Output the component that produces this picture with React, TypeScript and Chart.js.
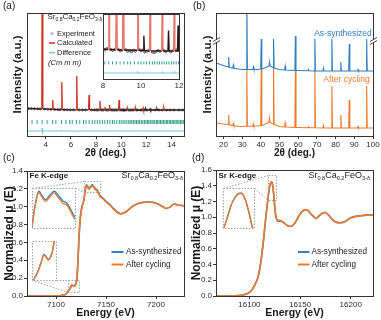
import React, { useEffect, useRef } from 'react';
import { Chart, registerables } from 'chart.js';

Chart.register(...registerables);

const W = 381;
const H = 320;
const FONT = "'Liberation Sans', Arial, Helvetica, sans-serif";
Chart.defaults.font.family = FONT;

const AX = '#333333';
const BLUE = '#2f7fc1';
const ORANGE = '#ee7a2c';
const RED = '#d0301f';
const RED_LIGHT = '#e5786c';
const DARK = '#2b1813';
const TEAL = '#2a9f86';
const CYAN = '#78c6e4';
const DOT = '#8a8a8a';

// ---------------- Panel (a): refinement ----------------
const aTicksX = [4, 6, 8, 10, 12, 14];
const aInsetTicksX = [8, 10, 12];
const calcX = [
  2.5, 3.0, 3.5, 3.68, 3.72, 3.76, 4.0,
  4.51, 4.55, 4.59, 5.0,
  5.23, 5.27, 5.31, 6.0,
  6.42, 6.46, 6.5, 7.0,
  7.4, 7.44, 7.48, 8.0,
  8.27, 8.31, 8.35,
  8.67, 8.71, 8.75,
  9.03, 9.07, 9.11,
  9.79, 9.83, 9.87,
  10.12, 10.15, 10.18,
  10.45, 10.48, 10.51,
  11.09, 11.12, 11.15,
  11.42, 11.45, 11.48,
  11.72, 11.75, 11.78,
  11.92, 11.95, 11.98,
  12.27, 12.3, 12.33,
  12.82, 12.85, 12.88,
  13.37, 13.4, 13.43,
  14.37, 14.4, 14.43,
  15.0,
];
const calcY = [
  1.5, 1.3, 1.1, 1.0, 200, 1.0, 0.9,
  0.6, 10, 0.6, 0.4,
  0.3, 28, 0.3, 0.2,
  0.1, 34, 0.1, 0.05,
  0.03, 15, 0.03, 0.08,
  0.06, 9, 0.06,
  0.05, 3, 0.05,
  0.04, 5, 0.04,
  0.03, 10, 0.03,
  0.02, 0.6, 0.02,
  0, 2, 0,
  0, 2.3, 0,
  0, 0.8, 0,
  0, 1.7, 0,
  0, 1.0, 0,
  0, 1.1, 0,
  0, 1.1, 0,
  0, 1.7, 0,
  0, 0.8, 0,
  0,
];
const expX = [
  2.6, 2.85, 3.1, 3.35, 3.55, 3.9, 4.15, 4.4, 4.7, 4.95, 5.15, 5.45, 5.7, 5.95, 6.2, 6.65, 6.9, 7.15, 7.65, 7.85,
  8.0, 8.1, 8.2, 8.4, 8.5, 8.6, 8.8, 8.9, 9.0, 9.2,
  9.3, 9.4, 9.5, 9.6, 9.7, 9.9, 10.0, 10.1, 10.2, 10.3,
  10.4, 10.6, 10.7, 10.8, 10.9, 11.0, 11.2, 11.3, 11.55, 11.65,
  11.85, 12.05,
  12.4, 12.7, 13.0, 13.3, 13.6, 13.9, 14.2, 14.6, 14.9,
];
const expY = [
  1.45, 1.35, 1.25, 1.15, 1.05, 0.92, 0.85, 0.7, 0.55, 0.42, 0.35, 0.3, 0.25, 0.2, 0.15, 0.08, 0.05, 0.04, 0.06, 0.08,
  0.08, 0.04, 0.1, 0.06, 0.02, 0.05, 0.07, 0.0, 0.03, 0.05,
  -0.02, 0.02, -0.04, 0.03, -0.01, 0.07, 0.01, 0.04, -0.05, -0.01,
  0.02, -0.05, -0.07, -0.02, 0.02, -0.01, 0.03, -0.03, -0.03, 0.0,
  0.04, 0.02,
  0.0, 0.02, -0.01, 0.01, 0.0, 0.01, 0.0, 0.01, 0.0,
];
const braggX = [
  2.9, 3.3, 3.7, 4.1, 4.55, 4.8, 5.25, 5.6, 5.9, 6.1, 6.45, 6.7, 7.0, 7.2, 7.45, 7.7, 7.9, 8.1, 8.3, 8.5,
  8.7, 8.9, 9.1, 9.3, 9.45, 9.65, 9.85, 10.0, 10.15, 10.3, 10.45, 10.6, 10.72, 10.85, 10.97, 11.1, 11.22,
  11.35, 11.47, 11.6, 11.72, 11.85, 11.97, 12.1, 12.2, 12.32, 12.45, 12.55, 12.67, 12.8, 12.9, 13.02,
  13.13, 13.25, 13.36, 13.48, 13.6, 13.7, 13.82, 13.93, 14.05, 14.15, 14.27, 14.38, 14.5, 14.6, 14.72,
  14.83, 14.95,
];
const diffX = [2.5, 3.69, 3.71, 3.73, 3.75, 5.25, 5.27, 5.29, 6.44, 6.46, 6.48, 9.81, 9.83, 9.85, 11.1, 11.12, 11.14, 11.73, 11.75, 11.77, 15];
const diffY = [0, 0, 3, -3, 0, 0, 1, 0, 0, -1, 0, 0, 0.06, 0, 0, 0.05, 0, 0, 0.05, 0, 0];

// ---------------- Panel (b): XRD ----------------
const bTicksX = [20, 30, 40, 50, 60, 70, 80, 90, 100];
const bX = [
  16, 20, 22.5, 22.8, 23.1, 25, 25.3, 25.6, 28, 30,
  32.2, 32.5, 32.8, 35.7, 36, 36.3, 38, 39.9, 40.2, 40.5,
  42, 43.3, 44.3, 44.6, 44.9, 46, 46.5, 46.8, 47.1, 50,
  52.7, 53, 53.3, 58.2, 58.5, 58.8, 60, 65.2, 65.5, 65.8,
  68.6, 68.9, 69.2, 73.2, 73.5, 73.8, 77.7, 78, 78.3, 82.5,
  82.8, 83.1, 87, 87.3, 87.6, 91.7, 92, 92.3, 96.3, 96.6,
  96.9, 100,
];
const bAsSyn = [
  73, 70.5, 69, 79, 68.8, 68, 71, 67.8, 67, 66.5,
  66.5, 135, 66.5, 66.5, 69, 66.5, 66.5, 67, 97, 67,
  68, 69, 70, 74, 70, 69, 68.5, 97, 68, 66.5,
  66, 70, 66, 65.5, 100, 65.5, 65.5, 65.2, 66.5, 65.2,
  65, 97, 65, 65, 68, 65, 65, 97, 65, 65,
  74, 65, 65, 92, 65, 65, 66.5, 65, 65, 97,
  65, 65,
];
const bAfter = [
  13, 12, 11.5, 21, 11.3, 10.5, 12.5, 10.3, 9.8, 9.5,
  9.8, 67, 9.8, 9.8, 12, 9.8, 10, 10.5, 67, 10.5,
  11.5, 13, 13.5, 18, 13.5, 12.5, 12, 68, 11.5, 9.5,
  9, 13, 9, 8.5, 66, 8.5, 8.5, 8.3, 9.5, 8.3,
  8.2, 66, 8.2, 8, 10.5, 8, 8, 50, 8, 8,
  21, 8, 8, 36, 8, 8, 9.5, 8, 8, 50,
  8, 8,
];
const bBreakY = 95;

// ---------------- Panel (c): Fe K-edge ----------------
const feTicksX = [7100, 7150, 7200];
const feTicksY = [0, 0.2, 0.4, 0.6, 0.8, 1.0, 1.2, 1.4];
const feE = [
  7071, 7090, 7100, 7105, 7108, 7110, 7111.5, 7113, 7114.5, 7116,
  7117, 7118, 7119, 7120, 7121, 7122, 7123, 7124, 7125, 7126,
  7127, 7128, 7129, 7130.5, 7132, 7133, 7134.5, 7136.3, 7137.5, 7139.5,
  7141, 7144, 7147, 7150, 7154, 7158, 7162, 7165, 7170, 7177,
  7182, 7187, 7192, 7197, 7202, 7207, 7210, 7214, 7218, 7222,
  7228,
];
const feAsSyn = [
  0, 0, 0.002, 0.005, 0.012, 0.022, 0.045, 0.065, 0.095, 0.125,
  0.118, 0.108, 0.118, 0.14, 0.2, 0.4, 0.65, 0.83, 0.94, 1.0,
  1.04, 1.085, 1.17, 1.245, 1.22, 1.206, 1.225, 1.245, 1.23, 1.2,
  1.19, 1.125, 1.094, 1.06, 1.02, 0.975, 0.935, 0.922, 0.944, 1.008,
  1.035, 1.05, 1.052, 1.05, 1.03, 1.0, 0.98, 0.995, 1.03, 1.02,
  1.01,
];
const feAfter = [
  0, 0, 0.002, 0.005, 0.012, 0.022, 0.044, 0.063, 0.093, 0.122,
  0.116, 0.106, 0.116, 0.14, 0.21, 0.42, 0.66, 0.835, 0.94, 0.995,
  1.035, 1.08, 1.165, 1.238, 1.212, 1.198, 1.216, 1.237, 1.22, 1.19,
  1.18, 1.115, 1.09, 1.056, 1.016, 0.97, 0.93, 0.92, 0.944, 1.006,
  1.033, 1.048, 1.05, 1.048, 1.028, 0.998, 0.98, 0.995, 1.028, 1.02,
  1.01,
];

// ---------------- Panel (d): Sr K-edge ----------------
const srTicksX = [16100, 16150, 16200];
const srTicksY = [0, 0.2, 0.4, 0.6, 0.8, 1.0, 1.2, 1.4, 1.6];
const srE = [
  16067, 16085, 16092, 16097, 16100, 16102, 16104, 16106, 16108, 16110,
  16112, 16114, 16116, 16118, 16119.5, 16121, 16122, 16123, 16124, 16125,
  16126, 16127.5, 16130, 16132, 16135, 16138, 16141, 16145, 16150, 16154,
  16157, 16161, 16164, 16166, 16169, 16172, 16175, 16178, 16182, 16186,
  16190, 16195, 16200, 16206, 16212, 16218, 16222,
];
const srAsSyn = [
  0, 0.003, 0.01, 0.025, 0.045, 0.07, 0.11, 0.16, 0.22, 0.33,
  0.5, 0.72, 0.98, 1.2, 1.36, 1.44, 1.45, 1.4, 1.28, 1.13,
  1.02, 0.955, 0.95, 0.945, 0.92, 0.89, 0.885, 0.93, 1.04, 1.09,
  1.09, 1.04, 1.0, 0.985, 1.02, 1.05, 1.06, 1.03, 0.97, 0.935,
  0.93, 0.95, 0.995, 1.015, 1.025, 1.03, 1.03,
];
const srAfter = [
  0, 0.003, 0.01, 0.025, 0.045, 0.07, 0.11, 0.16, 0.22, 0.33,
  0.5, 0.72, 0.98, 1.2, 1.36, 1.44, 1.45, 1.4, 1.29, 1.14,
  1.03, 0.965, 0.96, 0.95, 0.92, 0.89, 0.885, 0.93, 1.04, 1.09,
  1.09, 1.04, 1.0, 0.985, 1.02, 1.05, 1.06, 1.03, 0.97, 0.935,
  0.93, 0.95, 0.99, 1.01, 1.02, 1.03, 1.03,
];

// ---------------- labels ----------------
const formulaParts: [string, boolean][] = [
  ['Sr', false], ['0.8', true], ['Ca', false], ['0.2', true], ['FeO', false], ['3-δ', true],
];
const seriesNames = ['As-synthesized', 'After cycling'];
const aLegend = ['Experiment', 'Calculated', 'Difference'];

// ---------------- layout constants ----------------
const A_AREA = { l: 27, t: 13, r: 184, b: 136 };
const B_AREA = { l: 216, t: 13, r: 373, b: 136 };
const C_AREA = { l: 27, t: 171, r: 184, b: 296 };
const D_AREA = { l: 216, t: 170, r: 373, b: 296 };
const INSET_A = { l: 103, t: 14, r: 179, b: 79 };
const INSET_C1 = { l: 32, t: 188, r: 75, b: 228 };
const INSET_C2 = { l: 32, t: 241, r: 56, b: 280 };
const INSET_D = { l: 223, t: 188, r: 254, b: 228 };
const C1_BOX = { x0: 7128, x1: 7144, y0: 1.16, y1: 1.29 };
const C2_BOX = { x0: 7111.5, x1: 7123, y0: 0.045, y1: 0.175 };
const D_BOX = { x0: 16118.7, x1: 16126.3, y0: 1.22, y1: 1.54 };

const zip = (xs: number[], ys: number[], off = 0) => xs.map((x, i) => ({ x, y: ys[i] + off }));

function text(ctx: any, s: string, x: number, y: number, o: any = {}) {
  ctx.save();
  ctx.font = `${o.italic ? 'italic ' : ''}${o.bold ? 'bold ' : ''}${o.size ?? 8}px ${FONT}`;
  ctx.fillStyle = o.color ?? '#1a1a1a';
  ctx.textAlign = o.align ?? 'left';
  ctx.textBaseline = 'middle';
  if (o.rot) {
    ctx.translate(x, y);
    ctx.rotate(o.rot);
    ctx.fillText(s, 0, 0);
  } else ctx.fillText(s, x, y);
  ctx.restore();
}

function seg(ctx: any, x1: number, y1: number, x2: number, y2: number, color: string, lw = 1, dash?: number[]) {
  ctx.save();
  ctx.strokeStyle = color;
  ctx.lineWidth = lw;
  if (dash) ctx.setLineDash(dash);
  ctx.beginPath();
  ctx.moveTo(x1, y1);
  ctx.lineTo(x2, y2);
  ctx.stroke();
  ctx.restore();
}

function rect(ctx: any, l: number, t: number, r: number, b: number, color: string, lw = 1, dash?: number[]) {
  ctx.save();
  ctx.strokeStyle = color;
  ctx.lineWidth = lw;
  if (dash) ctx.setLineDash(dash);
  const L = Math.round(l) + 0.5, T = Math.round(t) + 0.5, R = Math.round(r) + 0.5, B = Math.round(b) + 0.5;
  ctx.strokeRect(L, T, R - L, B - T);
  ctx.restore();
}

function drawFormula(ctx: any, x: number, y: number, size: number, align: 'left' | 'right') {
  ctx.save();
  ctx.fillStyle = '#1a1a1a';
  ctx.textBaseline = 'middle';
  ctx.textAlign = 'left';
  const sub = size * 0.62;
  let total = 0;
  const widths = formulaParts.map(([t, s]) => {
    ctx.font = `${s ? sub : size}px ${FONT}`;
    const w = ctx.measureText(t).width;
    total += w;
    return w;
  });
  let cx = align === 'right' ? x - total : x;
  formulaParts.forEach(([t, s], i) => {
    ctx.font = `${s ? sub : size}px ${FONT}`;
    ctx.fillText(t, cx, s ? y + size * 0.32 : y);
    cx += widths[i];
  });
  ctx.restore();
}

function xScale(min: number, max: number, ticks: number[], h: number, show = true, fmt = (v: number) => String(v)) {
  return {
    type: 'linear',
    position: 'bottom',
    min,
    max,
    afterBuildTicks: (s: any) => { s.ticks = ticks.map((v) => ({ value: v })); },
    afterFit: (s: any) => { s.height = h; },
    grid: { display: show, drawOnChartArea: false, drawTicks: show, tickLength: 3, color: AX, lineWidth: 1 },
    border: { display: false },
    ticks: { display: true, font: { family: FONT, size: 8 }, color: '#2b2b2b', padding: show ? 1 : 2, maxRotation: 0, minRotation: 0, autoSkip: false, callback: (v: number) => fmt(v) },
  };
}

function yScale(min: number, max: number, ticks: number[], w: number, show: boolean) {
  return {
    type: 'linear',
    position: 'left',
    min,
    max,
    afterBuildTicks: (s: any) => { s.ticks = ticks.map((v) => ({ value: v })); },
    afterFit: (s: any) => { s.width = w; },
    grid: { display: show, drawOnChartArea: false, drawTicks: show, tickLength: 3, color: AX, lineWidth: 1 },
    border: { display: false },
    ticks: { display: show, font: { family: FONT, size: 8 }, color: '#2b2b2b', padding: 1, callback: (v: number) => v.toFixed(1) },
  };
}

function options(area: any, xH: number, yW: number, scales: any) {
  return {
    responsive: false,
    maintainAspectRatio: false,
    animation: false,
    devicePixelRatio: 1,
    events: [],
    layout: { padding: { left: area.l - yW, top: area.t, right: W - area.r, bottom: H - area.b - xH } },
    plugins: { legend: { display: false }, tooltip: { enabled: false }, title: { display: false } },
    scales,
  };
}

const whiteBg = (id: string) => ({
  id,
  beforeDatasetsDraw(chart: any) {
    const { ctx, chartArea: ca } = chart;
    ctx.save();
    ctx.fillStyle = '#ffffff';
    ctx.fillRect(ca.left, ca.top, ca.right - ca.left, ca.bottom - ca.top);
    ctx.restore();
  },
});

const lineDs = (data: any[], color: string, width: number, smooth: boolean, extra: any = {}) => ({
  data,
  borderColor: color,
  borderWidth: width,
  pointRadius: 0,
  fill: false,
  tension: smooth ? 0.4 : 0,
  cubicInterpolationMode: smooth ? 'monotone' : 'default',
  ...extra,
});

function refinementDatasets(braggY: number, diffOff: number, tickR: number, peakColor: string, w: number) {
  const segment = { borderColor: (c: any) => (Math.max(c.p0.parsed.y, c.p1.parsed.y) > 1.5 ? peakColor : DARK) };
  return [
    lineDs(zip(calcX, calcY), peakColor, w, false, { segment, order: 1 }),
    { data: zip(expX, expY), showLine: false, pointRadius: 1.1, pointBackgroundColor: '#cdbfd8', pointBorderColor: '#3a2626', pointBorderWidth: 0.6, order: 2 },
    { data: braggX.map((x) => ({ x, y: braggY })), showLine: false, pointStyle: 'line', rotation: 90, pointRadius: tickR, pointBorderColor: TEAL, pointBorderWidth: 1, borderColor: TEAL, order: 3 },
    lineDs(zip(diffX, diffY, diffOff), CYAN, 1, false, { order: 4 }),
  ];
}

// ---------------- chart builders ----------------
function buildA() {
  return {
    type: 'line',
    data: { datasets: refinementDatasets(-12, -21, 2, RED, 1.3) },
    options: options(A_AREA, 24, 27, { x: xScale(2.5, 15, aTicksX, 24), y: yScale(-26, 97, [], 27, false) }),
    plugins: [{
      id: 'decorA',
      afterDraw(chart: any) {
        const { ctx, chartArea: ca } = chart;
        rect(ctx, ca.left, ca.top, ca.right, ca.bottom, AX);
        text(ctx, '(a)', 3, 6.5, { size: 10 });
        text(ctx, 'Intensity (a.u.)', 17.5, (ca.top + ca.bottom) / 2, { size: 11.5, bold: true, rot: -Math.PI / 2, align: 'center' });
        text(ctx, '2θ (deg.)', (ca.left + ca.right) / 2, 153, { size: 10, bold: true, align: 'center' });
        drawFormula(ctx, 47.5, 17, 8, 'left');
        ctx.save();
        ctx.beginPath();
        ctx.arc(52, 33.5, 1.8, 0, Math.PI * 2);
        ctx.fillStyle = '#c6bfdc';
        ctx.fill();
        ctx.restore();
        text(ctx, aLegend[0], 57, 33.5, { size: 7.5 });
        seg(ctx, 49, 43, 55, 43, RED, 1.5);
        text(ctx, aLegend[1], 57, 43, { size: 7.5 });
        seg(ctx, 49, 52.7, 55, 52.7, CYAN, 1.5);
        text(ctx, aLegend[2], 57, 52.7, { size: 7.5 });
        text(ctx, '(Cm m m)', 48, 62.5, { size: 7.5, italic: true });
      },
    }],
  };
}

function buildAInset() {
  return {
    type: 'line',
    data: { datasets: refinementDatasets(-0.47, -0.865, 1.5, RED_LIGHT, 1.4) },
    options: options(INSET_A, 10, 0, {
      x: xScale(8, 12, aInsetTicksX, 10, false),
      y: { ...yScale(-1.1, 1.45, [], 0, false), display: false },
    }),
    plugins: [whiteBg('bgA'), {
      id: 'frameA',
      afterDraw(chart: any) {
        const { ctx, chartArea: ca } = chart;
        rect(ctx, ca.left, ca.top, ca.right, ca.bottom, AX);
      },
    }],
  };
}

function buildB() {
  return {
    type: 'line',
    data: {
      datasets: [
        lineDs(zip(bX, bAsSyn), BLUE, 1.1, false, { order: 1 }),
        lineDs(zip(bX, bAfter), ORANGE, 1.1, false, { order: 2 }),
      ],
    },
    options: options(B_AREA, 24, 26, { x: xScale(16, 100, bTicksX, 24), y: yScale(0, 123, [], 26, false) }),
    plugins: [{
      id: 'decorB',
      afterDraw(chart: any) {
        const { ctx, chartArea: ca, scales } = chart;
        rect(ctx, ca.left, ca.top, ca.right, ca.bottom, AX);
        const by = scales.y.getPixelForValue(bBreakY);
        [Math.round(ca.left) + 0.5, Math.round(ca.right) + 0.5].forEach((x) => {
          ctx.save();
          ctx.fillStyle = '#ffffff';
          ctx.fillRect(x - 2, by - 1.5, 4, 3);
          ctx.restore();
          seg(ctx, x - 3.5, by + 0.5, x + 3.5, by - 3.5, AX, 0.9);
          seg(ctx, x - 3.5, by + 3.5, x + 3.5, by - 0.5, AX, 0.9);
        });
        text(ctx, '(b)', 193, 6.5, { size: 10 });
        text(ctx, 'Intensity (a.u.)', 207.5, (ca.top + ca.bottom) / 2, { size: 11.5, bold: true, rot: -Math.PI / 2, align: 'center' });
        text(ctx, '2θ (deg.)', (ca.left + ca.right) / 2, 153, { size: 10, bold: true, align: 'center' });
        text(ctx, seriesNames[0], 343, 34, { size: 8.5, color: BLUE, align: 'center' });
        text(ctx, seriesNames[1], 346.5, 80, { size: 8.5, color: ORANGE, align: 'center' });
      },
    }],
  };
}

function xasLegend(ctx: any, x0: number, x1: number, tx: number) {
  seg(ctx, x0, 252, x1, 252, BLUE, 2);
  text(ctx, seriesNames[0], tx, 252, { size: 8.2 });
  seg(ctx, x0, 264.5, x1, 264.5, ORANGE, 2);
  text(ctx, seriesNames[1], tx, 264.5, { size: 8.2 });
}

function zoomBox(ctx: any, scales: any, box: any) {
  const l = scales.x.getPixelForValue(box.x0);
  const r = scales.x.getPixelForValue(box.x1);
  const t = scales.y.getPixelForValue(box.y1);
  const b = scales.y.getPixelForValue(box.y0);
  rect(ctx, l, t, r, b, DOT, 0.8, [1.5, 1.5]);
  return { l: Math.round(l) + 0.5, t: Math.round(t) + 0.5, r: Math.round(r) + 0.5, b: Math.round(b) + 0.5 };
}

function buildC() {
  return {
    type: 'line',
    data: {
      datasets: [
        lineDs(zip(feE, feAfter), ORANGE, 1.6, true, { order: 1 }),
        lineDs(zip(feE, feAsSyn), BLUE, 1.6, true, { order: 2 }),
      ],
    },
    options: options(C_AREA, 24, 27, {
      x: xScale(7071, 7228, feTicksX, 24),
      y: yScale(0, 1.4, feTicksY, 27, true),
    }),
    plugins: [{
      id: 'decorC',
      afterDraw(chart: any) {
        const { ctx, chartArea: ca, scales } = chart;
        rect(ctx, ca.left, ca.top, ca.right, ca.bottom, AX);
        text(ctx, '(c)', 3, 158, { size: 10 });
        text(ctx, 'Normalized μ (E)', 10, (ca.top + ca.bottom) / 2, { size: 12, bold: true, rot: -Math.PI / 2, align: 'center' });
        text(ctx, 'Energy (eV)', (ca.left + ca.right) / 2, 313, { size: 10.5, bold: true, align: 'center' });
        text(ctx, 'Fe K-edge', 29.5, 175.5, { size: 8, bold: true });
        drawFormula(ctx, 183, 175.5, 9, 'right');
        xasLegend(ctx, 111.5, 123.5, 126);
        const b1 = zoomBox(ctx, scales, C1_BOX);
        seg(ctx, INSET_C1.l + 0.5, INSET_C1.t + 0.5, b1.l, b1.t, DOT, 0.8, [1.5, 1.5]);
        seg(ctx, INSET_C1.r + 0.5, INSET_C1.t + 0.5, b1.l, b1.b, DOT, 0.8, [1.5, 1.5]);
        const b2 = zoomBox(ctx, scales, C2_BOX);
        seg(ctx, INSET_C2.l + 0.5, INSET_C2.b + 0.5, b2.l, b2.b, DOT, 0.8, [1.5, 1.5]);
        seg(ctx, INSET_C2.r + 0.5, INSET_C2.b + 0.5, b2.l, b2.t, DOT, 0.8, [1.5, 1.5]);
      },
    }],
  };
}

function buildXasInset(id: string, area: any, xr: number[], yr: number[], E: number[], a: number[], b: number[]) {
  return {
    type: 'line',
    data: {
      datasets: [
        lineDs(zip(E, b), ORANGE, 1.3, true, { order: 1 }),
        lineDs(zip(E, a), BLUE, 1.3, true, { order: 2 }),
      ],
    },
    options: options(area, 0, 0, {
      x: { ...xScale(xr[0], xr[1], [], 0, false), display: false },
      y: { ...yScale(yr[0], yr[1], [], 0, false), display: false },
    }),
    plugins: [whiteBg('bg' + id), {
      id: 'frame' + id,
      afterDraw(chart: any) {
        const { ctx, chartArea: ca } = chart;
        rect(ctx, ca.left, ca.top, ca.right, ca.bottom, DOT, 0.8, [1.5, 1.5]);
      },
    }],
  };
}

function buildD() {
  return {
    type: 'line',
    data: {
      datasets: [
        lineDs(zip(srE, srAfter), ORANGE, 1.6, true, { order: 1 }),
        lineDs(zip(srE, srAsSyn), BLUE, 1.6, true, { order: 2 }),
      ],
    },
    options: options(D_AREA, 24, 26, {
      x: xScale(16067, 16222, srTicksX, 24),
      y: yScale(0, 1.6, srTicksY, 26, true),
    }),
    plugins: [{
      id: 'decorD',
      afterDraw(chart: any) {
        const { ctx, chartArea: ca, scales } = chart;
        rect(ctx, ca.left, ca.top, ca.right, ca.bottom, AX);
        text(ctx, '(d)', 192, 158, { size: 10 });
        text(ctx, 'Normalized μ (E)', 196.5, (ca.top + ca.bottom) / 2, { size: 12, bold: true, rot: -Math.PI / 2, align: 'center' });
        text(ctx, 'Energy (eV)', (ca.left + ca.right) / 2, 313, { size: 10.5, bold: true, align: 'center' });
        text(ctx, 'Sr K-edge', 218.5, 175.5, { size: 8, bold: true });
        drawFormula(ctx, 370, 175.5, 9, 'right');
        xasLegend(ctx, 298, 309.5, 311.5);
        const b = zoomBox(ctx, scales, D_BOX);
        seg(ctx, INSET_D.l + 0.5, INSET_D.t + 0.5, b.l, b.t, DOT, 0.8, [1.5, 1.5]);
        seg(ctx, INSET_D.r + 0.5, INSET_D.t + 0.5, b.l, b.b, DOT, 0.8, [1.5, 1.5]);
      },
    }],
  };
}

const builders = [
  buildA,
  buildAInset,
  buildB,
  buildC,
  () => buildXasInset('C1', INSET_C1, [7128, 7144], [1.075, 1.26], feE, feAsSyn, feAfter),
  () => buildXasInset('C2', INSET_C2, [7110.5, 7121.5], [0.04, 0.17], feE, feAsSyn, feAfter),
  buildD,
  () => buildXasInset('D', INSET_D, [16117, 16125.5], [1.12, 1.5], srE, srAsSyn, srAfter),
];

function Layer({ build }: { build: () => any }) {
  const ref = useRef<HTMLCanvasElement>(null);
  useEffect(() => {
    const chart = new Chart(ref.current as HTMLCanvasElement, build() as any);
    return () => chart.destroy();
  }, [build]);
  return (
    <canvas
      ref={ref}
      width={W}
      height={H}
      style={{ position: 'absolute', left: 0, top: 0, width: W, height: H }}
    />
  );
}

export default function App() {
  return (
    <div style={{ position: 'absolute', left: 0, top: 0, width: W, height: H, background: '#ffffff', overflow: 'hidden' }}>
      {builders.map((b, i) => (
        <Layer key={i} build={b} />
      ))}
    </div>
  );
}
